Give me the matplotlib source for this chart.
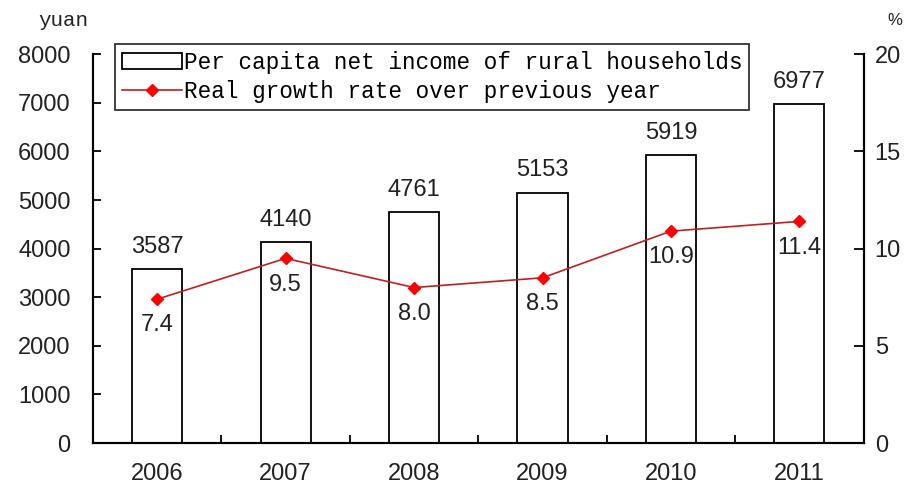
import numpy as np
from matplotlib import pyplot as plt

years = ["2006", "2007", "2008", "2009", "2010", "2011"]
income = [3587, 4140, 4761, 5153, 5919, 6977]
growth = [7.4, 9.5, 8.0, 8.5, 10.9, 11.4]
growth_labels = ["7.4", "9.5", "8.0", "8.5", "10.9", "11.4"]

plt.rcParams["font.family"] = ["Liberation Sans", "DejaVu Sans"]
mono = "Liberation Mono"
fs = 17

fig = plt.figure(figsize=(9.11, 4.88), dpi=100)
ax = fig.add_axes([0.102, 0.092, 0.846, 0.797])
ax2 = ax.twinx()

x = np.arange(len(years))
bars = ax.bar(x, income, width=0.39, facecolor="white", edgecolor="black",
              linewidth=1.3, label="Per capita net income of rural households")
for xi, v in zip(x, income):
    ax.annotate(str(v), (xi, v), xytext=(0, 8), textcoords="offset points",
                ha="center", va="bottom", fontsize=fs, color="#222222")

line, = ax2.plot(x, growth, color="#c01f22", linewidth=1.2, marker="D",
                 markersize=6, markerfacecolor="red", markeredgecolor="red",
                 label="Real growth rate over previous year")
for xi, v, t in zip(x, growth, growth_labels):
    ax2.annotate(t, (xi, v), xytext=(0, -11), textcoords="offset points",
                 ha="center", va="top", fontsize=fs, color="#222222")

ax.set_xlim(-0.5, len(years) - 0.5)
ax.set_ylim(0, 8000)
ax2.set_ylim(0, 20)
ax.set_yticks(np.arange(0, 8001, 1000))
ax2.set_yticks(np.arange(0, 21, 5))

ax.set_xticks(x)
ax.set_xticklabels(years)
ax.set_xticks(np.arange(0.5, len(years) - 1, 1), minor=True)
ax.tick_params(axis="x", which="major", length=0, pad=14, labelsize=fs, labelcolor="#222222")
ax.tick_params(axis="x", which="minor", direction="in", length=6, width=1.3)
ax.tick_params(axis="y", direction="in", length=6, width=1.3, pad=16,
               labelsize=fs, labelcolor="#222222")
ax2.tick_params(axis="y", direction="in", length=7, width=1.3, pad=8,
                labelsize=fs, labelcolor="#222222")

for a in (ax, ax2):
    a.spines["top"].set_visible(False)
    for s in ("left", "right", "bottom"):
        a.spines[s].set_linewidth(1.5)

fig.text(0.042, 0.957, "yuan", fontsize=15, family=mono, color="#222222", va="center")
fig.text(0.974, 0.957, "%", fontsize=12, color="#222222", va="center")

leg = ax.legend([bars, line], [bars.get_label(), line.get_label()],
                loc="upper left", bbox_to_anchor=(0.029, 1.025), frameon=True,
                fancybox=False, edgecolor="black", prop={"family": mono, "size": 16.3},
                handlelength=2.65, handletextpad=0.08, borderpad=0.3,
                labelspacing=0.25, borderaxespad=0)
leg.get_frame().set_linewidth(1.3)

fig.savefig("out.png", dpi=100)
